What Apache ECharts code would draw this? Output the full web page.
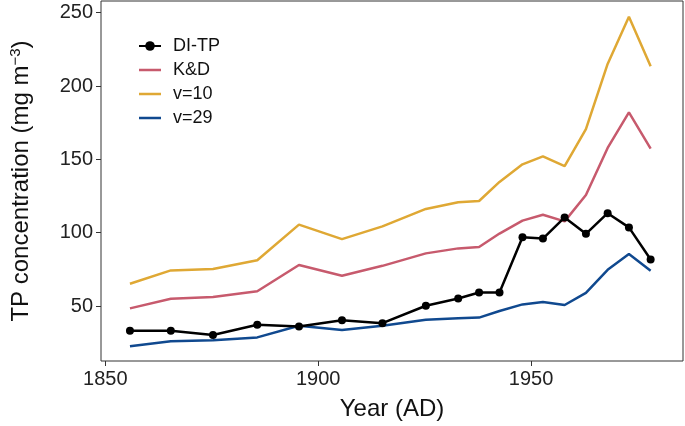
<!DOCTYPE html>
<html>
<head>
<meta charset="utf-8">
<script src="https://cdn.jsdelivr.net/npm/echarts@6/dist/echarts.min.js"></script>
<style>
html,body{margin:0;padding:0;background:#fff;}
#c{width:685px;height:426px;}
</style>
</head>
<body>
<div id="c"></div>
<script>
const years = [1855.8, 1865.4, 1875.3, 1885.7, 1895.5, 1905.6, 1915.1, 1925.3, 1932.9, 1937.8, 1942.6, 1948.0, 1952.8, 1957.9, 1962.9, 1968.0, 1973.0, 1978.1];
const diTP = [33.2, 33.2, 30.2, 37.2, 36.0, 40.3, 38.3, 50.2, 55.1, 59.2, 59.2, 96.9, 96.0, 110.4, 99.2, 113.3, 103.6, 81.7];
const kd   = [48.4, 54.9, 56.1, 60.1, 78.0, 70.6, 77.4, 85.9, 89.3, 90.2, 99.4, 108.2, 112.2, 107.7, 125.7, 157.8, 182.1, 157.3];
const v10  = [65.2, 74.3, 75.3, 81.2, 105.5, 95.6, 104.3, 116.2, 120.8, 121.6, 134.6, 146.6, 152.0, 145.4, 170.6, 215.1, 247.2, 213.5];
const v29  = [22.6, 25.9, 26.6, 28.6, 36.5, 33.6, 36.5, 40.6, 41.6, 42.1, 46.6, 51.1, 52.7, 50.7, 59.0, 74.7, 85.4, 74.0];
const xTicks = [1850, 1900, 1950];
const yTicks = [50, 100, 150, 200, 250];
const names = ['DI-TP', 'K&D', 'v=10', 'v=29'];

const pair = (arr) => years.map((y, i) => [y, arr[i]]);
const FONT = '"Liberation Sans", Arial, sans-serif';
const LINE_ICON = 'path://M0,0L0,0ZM22,12L22,12ZM0,4.7H22V7.3H0Z';

const chart = echarts.init(document.getElementById('c'), null, {renderer: 'canvas'});
chart.setOption({
  animation: false,
  backgroundColor: '#fff',
  grid: {left: 90, right: 2, top: 1, bottom: 62, show: true, borderColor: '#333', borderWidth: 1, backgroundColor: 'transparent'},
  legend: {
    orient: 'vertical', left: 133, top: 32, itemWidth: 22, itemHeight: 12, itemGap: 6,
    data: [
      {name: 'DI-TP'},
      {name: 'K&D', icon: LINE_ICON},
      {name: 'v=10', icon: LINE_ICON},
      {name: 'v=29', icon: LINE_ICON}
    ],
    textStyle: {fontFamily: FONT, fontSize: 18, color: '#111', padding: [0, 0, 0, 7]}
  },
  xAxis: {
    type: 'value', min: 1849, max: 1985.7,
    splitLine: {show: false},
    axisLine: {show: false},
    axisTick: {show: true, length: 5, lineStyle: {color: '#333'}, customValues: xTicks},
    axisLabel: {fontFamily: FONT, fontSize: 20, color: '#222', margin: 8, customValues: xTicks, formatter: (v) => String(v)},
    name: 'Year (AD)', nameLocation: 'middle', nameGap: 36,
    nameTextStyle: {fontFamily: FONT, fontSize: 24, color: '#111'}
  },
  yAxis: {
    type: 'value', min: 12.5, max: 258,
    splitLine: {show: false},
    axisLine: {show: false},
    axisTick: {show: true, length: 5, lineStyle: {color: '#333'}, customValues: yTicks},
    axisLabel: {fontFamily: FONT, fontSize: 20, color: '#222', margin: 8, customValues: yTicks, formatter: (v) => String(v)},
    name: '{a|TP concentration (mg m}{s|−3}{a|)}', nameLocation: 'middle', nameGap: 66, nameRotate: 90,
    nameTextStyle: {
      rich: {
        a: {fontFamily: FONT, fontSize: 24, color: '#111'},
        s: {fontFamily: FONT, fontSize: 15, color: '#111', padding: [0, 0, 12, 0]}
      }
    }
  },
  series: [
    {name: 'v=10', type: 'line', data: pair(v10), symbol: 'none', lineStyle: {color: '#dfa834', width: 2.5}, itemStyle: {color: '#dfa834'}},
    {name: 'K&D', type: 'line', data: pair(kd), symbol: 'none', lineStyle: {color: '#c75a6d', width: 2.5}, itemStyle: {color: '#c75a6d'}},
    {name: 'v=29', type: 'line', data: pair(v29), symbol: 'none', lineStyle: {color: '#10498f', width: 2.5}, itemStyle: {color: '#10498f'}},
    {name: 'DI-TP', type: 'line', data: pair(diTP), symbol: 'circle', symbolSize: 8, lineStyle: {color: '#000', width: 2.5}, itemStyle: {color: '#000'}}
  ]
});
</script>
</body>
</html>
